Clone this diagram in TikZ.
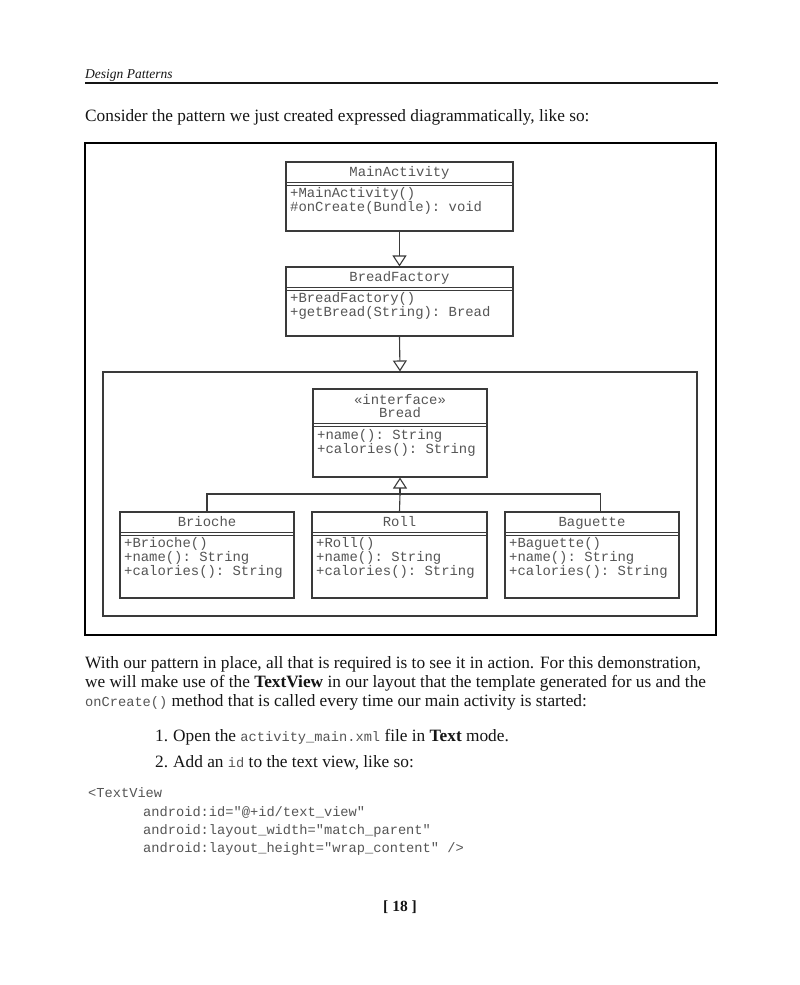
\documentclass[tikz,border=0pt]{standalone}
\usepackage{fontspec}
\setmainfont{Liberation Serif}
\setmonofont{Liberation Mono}
\usetikzlibrary{arrows.meta,calc}
\definecolor{umlline}{HTML}{3A3A3A}
\definecolor{umltext}{HTML}{555555}
\definecolor{codegray}{HTML}{555555}
\definecolor{bodyblack}{HTML}{151515}
\tikzset{
  classbox/.style={draw=umlline, line width=1.1pt, inner sep=0pt},
  sepline/.style={draw=umlline, line width=0.9pt},
  umlt/.style={font=\fontsize{13.9}{14}\ttfamily, text=umltext, inner sep=0pt, anchor=base},
  umlm/.style={font=\fontsize{13.9}{14}\ttfamily, text=umltext, inner sep=0pt, anchor=base west},
  genarrow/.style={draw=umlline, line width=1.1pt, -{Triangle[open,length=11pt,width=14pt,line width=1.1pt]}},
  genline/.style={draw=umlline, line width=1.1pt},
  bodytxt/.style={font=\fontsize{17.3}{19}\selectfont, text=bodyblack, inner sep=0pt, anchor=base west},
  codetxt/.style={font=\fontsize{13.7}{18}\ttfamily, text=codegray, inner sep=0pt, anchor=base west},
}
\newcommand{\inl}[1]{{\fontsize{13.7}{16}\ttfamily\color{codegray}#1}}
\begin{document}
\begin{tikzpicture}[x=1pt,y=-1pt]
\useasboundingbox[fill=white] (0,0) rectangle (800,985);

% header
\node[bodytxt, font=\fontsize{13.5}{16}\itshape] (hdr) at (85,78) {Design Patterns};
\coordinate (rl) at (85,83);
\coordinate (rr) at (718,83);
\draw[line width=1.5pt, bodyblack] (rl) -- (rr);

\node[bodytxt] (intro) at (85,121) {Consider the pattern we just created expressed diagrammatically, like so:};

% outer frame
\node[draw=black, line width=2pt, minimum width=631pt, minimum height=492pt, inner sep=0pt] (frame) at (400.5,389) {};

% MainActivity
\node[classbox, minimum width=227pt, minimum height=69pt] (ma) at (399.5,196.5) {};
\draw[sepline] (286,182) -- (513,182);
\draw[sepline] (286,185) -- (513,185);
\node[umlt] (mat) at (399.5,176) {MainActivity};
\node[umlm] (ma1) at (290,197) {+MainActivity()};
\node[umlm] (ma2) at (290,211) {\#onCreate(Bundle): void};

% BreadFactory
\node[classbox, minimum width=227pt, minimum height=69pt] (bf) at (399.5,301.5) {};
\draw[sepline] (286,287) -- (513,287);
\draw[sepline] (286,290) -- (513,290);
\node[umlt] (bft) at (399.5,281) {BreadFactory};
\node[umlm] (bf1) at (290,302) {+BreadFactory()};
\node[umlm] (bf2) at (290,316) {+getBread(String): Bread};

% package frame
\node[draw=umlline, line width=1.1pt, minimum width=594pt, minimum height=244pt, inner sep=0pt] (pkg) at (400,494) {};

\draw[genarrow] (ma.south) -- (bf.north);
\draw[genarrow] (bf.south) -- (pkg.north);

% Bread interface
\node[classbox, minimum width=174pt, minimum height=88pt] (bread) at (400,433) {};
\draw[sepline] (313,423) -- (487,423);
\draw[sepline] (313,426) -- (487,426);
\node[umlt] (brs) at (400,404) {«interface»};
\node[umlt] (brt) at (400,417) {Bread};
\node[umlm] (br1) at (317,439) {+name(): String};
\node[umlm] (br2) at (317,453) {+calories(): String};

% Brioche
\node[classbox, minimum width=174pt, minimum height=86pt] (bri) at (207,555) {};
\draw[sepline] (120,532) -- (294,532);
\draw[sepline] (120,535) -- (294,535);
\node[umlt] (brit) at (207,526) {Brioche};
\node[umlm] (bri1) at (124,547) {+Brioche()};
\node[umlm] (bri2) at (124,561) {+name(): String};
\node[umlm] (bri3) at (124,575) {+calories(): String};

% Roll
\node[classbox, minimum width=175pt, minimum height=86pt] (roll) at (399.5,555) {};
\draw[sepline] (312,532) -- (487,532);
\draw[sepline] (312,535) -- (487,535);
\node[umlt] (rollt) at (399.5,526) {Roll};
\node[umlm] (roll1) at (316,547) {+Roll()};
\node[umlm] (roll2) at (316,561) {+name(): String};
\node[umlm] (roll3) at (316,575) {+calories(): String};

% Baguette
\node[classbox, minimum width=174pt, minimum height=86pt] (bag) at (592,555) {};
\draw[sepline] (505,532) -- (679,532);
\draw[sepline] (505,535) -- (679,535);
\node[umlt] (bagt) at (592,526) {Baguette};
\node[umlm] (bag1) at (509,547) {+Baguette()};
\node[umlm] (bag2) at (509,561) {+name(): String};
\node[umlm] (bag3) at (509,575) {+calories(): String};

% generalization tree
\coordinate (j) at (400,494);
\coordinate (bagtop) at ($(bag.north west)!0.55!(bag.north east)$);
\draw[genarrow] (j) -- (bread.south);
\draw[genline] (bri.north) |- (j) -| (bagtop);
\draw[genline] (roll.north) -- (j);

% body text
\node[bodytxt] (p1) at (85,668) {With our pattern in place, all that is required is to see it in action. For this demonstration,};
\node[bodytxt] (p2) at (85,687) {we will make use of the \textbf{TextView} in our layout that the template generated for us and the};
\node[bodytxt] (p3) at (85,706) {\inl{onCreate()} method that is called every time our main activity is started:};

\node[bodytxt] (n1) at (155,741) {1.};
\node[bodytxt] (l1) at (173,741) {Open the \inl{activity\_main.xml} file in \textbf{Text} mode.};
\node[bodytxt] (n2) at (155,767) {2.};
\node[bodytxt] (l2) at (173,767) {Add an \inl{id} to the text view, like so:};

\node[codetxt] (c1) at (88,797) {<TextView};
\node[codetxt] (c2) at (143,816) {android:id="@+id/text\_view"};
\node[codetxt] (c3) at (143,834) {android:layout\_width="match\_parent"};
\node[codetxt] (c4) at (143,852) {android:layout\_height="wrap\_content" />};

\node[font=\fontsize{15.5}{18}\bfseries, text=bodyblack, inner sep=0pt, anchor=base] (pg) at (400,911) {[ 18 ]};
\end{tikzpicture}
\end{document}
